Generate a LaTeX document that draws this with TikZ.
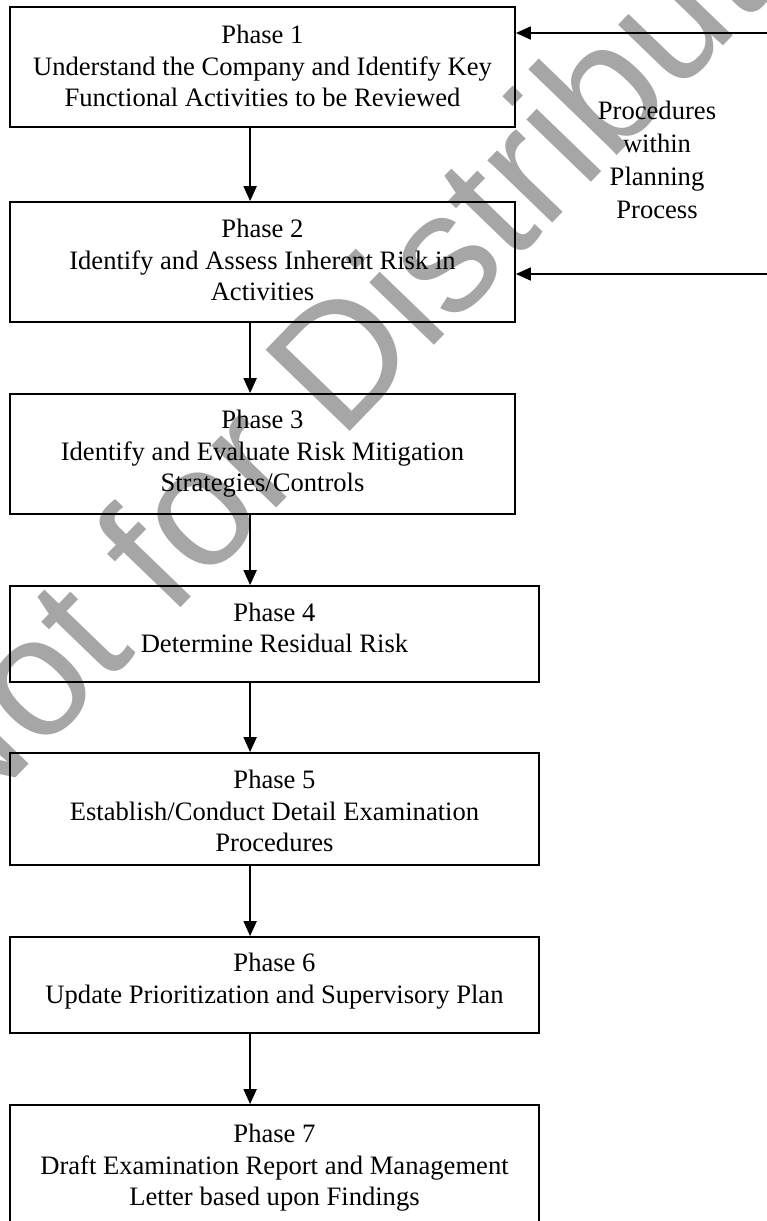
\documentclass[tikz,border=0pt]{standalone}
\usepackage{fontspec}
\setmainfont{Liberation Serif}
\newfontfamily\wmfont{Liberation Sans}
\usetikzlibrary{arrows.meta}
\begin{document}
\begin{tikzpicture}[x=1pt,y=-1pt,
  box/.style={draw, line width=1.8pt, rectangle, inner sep=0pt},
  txt/.style={align=center, inner sep=0pt, font=\fontsize{26.6}{31.5}\selectfont},
  sidetxt/.style={align=center, inner sep=0pt, font=\fontsize{26.6}{33}\selectfont},
  arr/.style={line width=1.8pt, -{Triangle[length=15pt,width=13pt]}},
  wm/.style={inner sep=0pt, text=black!35, rotate=46, font=\wmfont\fontsize{170}{170}\selectfont}
]
\useasboundingbox (0,0) rectangle (767,1221);
\clip (0,0) rectangle (767,1221);
\fill[white] (0,0) rectangle (767,1221);

% watermark
\node[wm] (wmark) at (399,294) {Not for Distribution};

% boxes
\node[box, minimum width=505pt, minimum height=120pt] (p1) at (262.5,67) {};
\node[box, minimum width=505pt, minimum height=120pt] (p2) at (262.5,262) {};
\node[box, minimum width=505pt, minimum height=120pt] (p3) at (262.5,454) {};
\node[box, minimum width=529pt, minimum height=96pt]  (p4) at (274.5,634) {};
\node[box, minimum width=529pt, minimum height=112pt] (p5) at (274.5,809) {};
\node[box, minimum width=529pt, minimum height=96pt]  (p6) at (274.5,985) {};
\node[box, minimum width=529pt, minimum height=124pt] (p7) at (274.5,1167) {};

% texts
\node[txt] (t1) at (262.5,66) {Phase 1\\Understand the Company and Identify Key\\Functional Activities to be Reviewed};
\node[txt] (t2) at (262.5,260) {Phase 2\\Identify and Assess Inherent Risk in\\Activities};
\node[txt] (t3) at (262.5,454) {Phase 3\\Identify and Evaluate Risk Mitigation\\Strategies/Controls};
\node[txt] (t4) at (274.5,628) {Phase 4\\Determine Residual Risk};
\node[txt] (t5) at (274.5,811) {Phase 5\\Establish/Conduct Detail Examination\\Procedures};
\node[txt] (t6) at (274.5,981) {Phase 6\\Update Prioritization and Supervisory Plan};
\node[txt] (t7) at (274.5,1168) {Phase 7\\Draft Examination Report and Management\\Letter based upon Findings};

\node[sidetxt] (proc) at (657,160) {Procedures\\within\\Planning\\Process};

% vertical connectors
\draw[arr] ([xshift=241pt]p1.south west) -- ([xshift=241pt]p2.north west);
\draw[arr] ([xshift=241pt]p2.south west) -- ([xshift=241pt]p3.north west);
\draw[arr] ([xshift=241pt]p3.south west) -- ([xshift=241pt]p4.north west);
\draw[arr] ([xshift=241pt]p4.south west) -- ([xshift=241pt]p5.north west);
\draw[arr] ([xshift=241pt]p5.south west) -- ([xshift=241pt]p6.north west);
\draw[arr] ([xshift=241pt]p6.south west) -- ([xshift=241pt]p7.north west);

% side arrows
\coordinate (r1) at (767,33);
\coordinate (r2) at (767,274);
\draw[arr] (r1) -- (p1.east |- r1);
\draw[arr] (r2) -- (p2.east |- r2);
\end{tikzpicture}
\end{document}
